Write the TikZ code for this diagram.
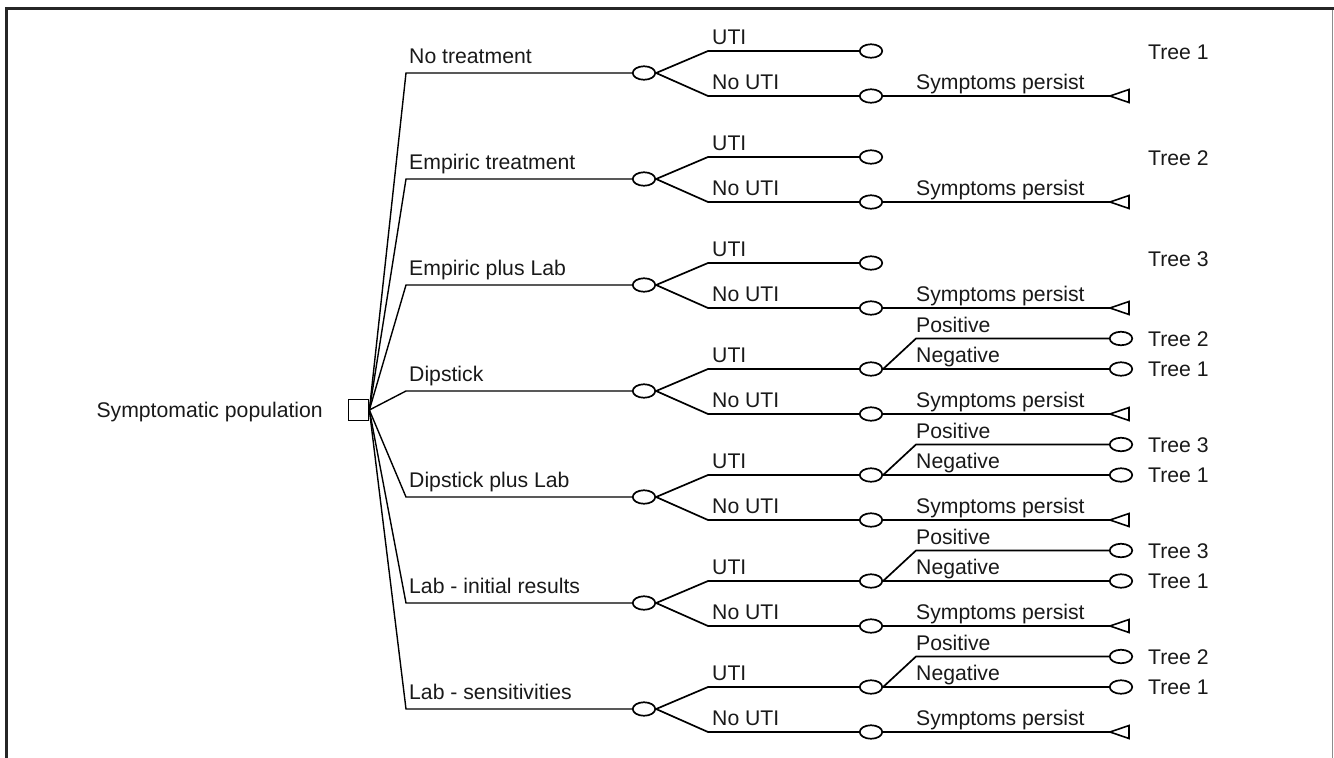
\documentclass[tikz,border=0pt]{standalone}
\usepackage{fontspec}
\setmainfont{Liberation Sans}
\usetikzlibrary{shapes.geometric}
\begin{document}
\begin{tikzpicture}[x=1pt,y=-1pt,
  txt/.style={anchor=base west, inner sep=0pt, font=\fontsize{21.2}{24}\selectfont, text=black!90},
  chance/.style={ellipse, draw, line width=1.7pt, minimum width=22.5pt, minimum height=13.5pt, inner sep=0pt},
  dec/.style={rectangle, draw, line width=1.2pt, minimum width=20.5pt, minimum height=20.5pt, inner sep=0pt},
  br/.style={line width=1.7pt, line join=miter},
  br1/.style={line width=1.4pt, line join=miter},
  term/.style={line width=1.6pt, line join=miter}]
\useasboundingbox (0,0) rectangle (1334,758);
% frame
\draw[line width=3pt, color=black!85] (6.5,758) -- (6.5,8.3) -- (1334,8.3);
\draw[line width=1pt, color=black!45] (1332.5,9.8) -- (1332.5,758);
% root
\node[dec] (root) at (358.5,410) {};
\node[txt, anchor=base east] (rootlab) at (323,417.5) {Symptomatic population};
\foreach \i/\lab/\c in {1/No treatment/73, 2/Empiric treatment/179, 3/Empiric plus Lab/285,
  4/Dipstick/391, 5/Dipstick plus Lab/497, 6/Lab - initial results/603, 7/Lab - sensitivities/709}{
  \node[chance] (c\i) at (644,\c) {};
  \coordinate (k\i) at (406,\c);
  \draw[br1] (root.east) -- (k\i) -- (c\i.west);
  \node[txt] (l\i) at (409,\c-10) {\lab};
  \node[chance] (u\i) at (871,\c-22) {};
  \node[chance] (n\i) at (871,\c+23) {};
  \coordinate (ku\i) at (708,\c-22);
  \coordinate (kn\i) at (708,\c+23);
  \draw[br] (c\i.east) -- (ku\i) -- (u\i.west);
  \draw[br] (c\i.east) -- (kn\i) -- (n\i.west);
  \node[txt] (lu\i) at (712,\c-29) {UTI};
  \node[txt] (ln\i) at (712,\c+16) {No UTI};
  \node[txt] (ls\i) at (916,\c+16) {Symptoms persist};
  \coordinate (t\i) at (1110,\c+23);
  \draw[br] (n\i.east) -- (t\i);
  \draw[term] (t\i) -- ++(19,-6.5) -- ++(0,13) -- cycle;
}
\node[txt] (tr1) at (1148,59.5) {Tree 1};
\node[txt] (tr2) at (1148,165.5) {Tree 2};
\node[txt] (tr3) at (1148,266.5) {Tree 3};
\foreach \i/\c/\pos in {4/391/2, 5/497/3, 6/603/3, 7/709/2}{
  \node[chance] (p\i) at (1121,\c-52.5) {};
  \node[chance] (g\i) at (1121,\c-22) {};
  \coordinate (kp\i) at (916,\c-52.5);
  \draw[br] (u\i.east) -- (kp\i) -- (p\i.west);
  \draw[br] (u\i.east) -- (g\i.west);
  \node[txt] (lp\i) at (916,\c-59) {Positive};
  \node[txt] (lg\i) at (916,\c-29) {Negative};
  \node[txt] (tp\i) at (1148,\c-45) {Tree \pos};
  \node[txt] (tg\i) at (1148,\c-14.5) {Tree 1};
}
\end{tikzpicture}
\end{document}
